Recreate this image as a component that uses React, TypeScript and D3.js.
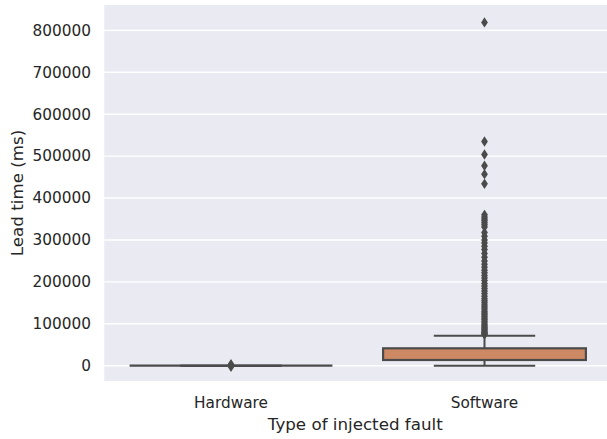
import React from "react";
import * as d3 from "d3";

const categories = ["Hardware", "Software"];
// box statistics per category: [lowerWhisker, q1, median, q3, upperWhisker]
const hardwareStats = [0, 0, 0, 0, 0];
const softwareStats = [0, 13600, 13600, 41500, 71600];
const hardwareOutliers = [3500, -2500, 800];
const softwareOutliers = [
  819000, 535000, 504000, 477000, 457000, 434000,
  360000, 355000, 350000, 346000, 341000, 336000, 331000, 318000,
  309000, 300000, 293000, 285000, 277000, 268000, 259000, 250000, 242000, 235000,
  228000, 222000, 215000, 209000, 203000, 196000, 190000, 184000, 178000, 172000,
  166000, 160000, 155000, 150000, 145000, 140000, 135000, 130000, 126000, 122000,
  118000, 114000, 110000, 106000, 102000, 98000, 95000, 92000, 89000, 86000,
  83000, 80000, 78000, 76000, 74500,
];
const yTicks = [0, 100000, 200000, 300000, 400000, 500000, 600000, 700000, 800000];
const yDomain = [-36500, 860600];

const W = 607;
const H = 439;
const plot = { left: 104.25, right: 611.25, top: 5, bottom: 381 };
const boxColors = ["#5a74a6", "#cc8963"];
const lineColor = "#4b4b4b";
const font = "'DejaVu Sans', sans-serif";

export default function App() {
  const x = d3.scaleBand().domain(categories).range([plot.left, plot.right]).padding(0);
  const y = d3.scaleLinear().domain(yDomain).range([plot.bottom, plot.top]);
  const bw = x.bandwidth() * 0.8;
  const stats = [hardwareStats, softwareStats];
  const outliers = [hardwareOutliers, softwareOutliers];
  const diamond = (cx: number, cy: number) =>
    `M${cx},${cy - 3.8}L${cx + 2.5},${cy}L${cx},${cy + 3.8}L${cx - 2.5},${cy}Z`;

  return (
    <svg width={W} height={H} style={{ position: "absolute", left: 0, top: 0, fontFamily: font }}>
      <rect x={plot.left} y={plot.top} width={plot.right - plot.left} height={plot.bottom - plot.top} fill="#eaeaf2" />
      {yTicks.map((t) => (
        <line key={t} x1={plot.left} x2={plot.right} y1={y(t)} y2={y(t)} stroke="#ffffff" strokeWidth={1.4} />
      ))}
      {categories.map((c, i) => {
        const cx = (x(c) as number) + x.bandwidth() / 2;
        const [lw, q1, med, q3, uw] = stats[i];
        return (
          <g key={c}>
            <line x1={cx} x2={cx} y1={y(q3)} y2={y(uw)} stroke={lineColor} strokeWidth={2} />
            <line x1={cx} x2={cx} y1={y(q1)} y2={y(lw)} stroke={lineColor} strokeWidth={2} />
            <line x1={cx - bw / 4} x2={cx + bw / 4} y1={y(uw)} y2={y(uw)} stroke={lineColor} strokeWidth={2} />
            <line x1={cx - bw / 4} x2={cx + bw / 4} y1={y(lw)} y2={y(lw)} stroke={lineColor} strokeWidth={2} />
            <rect x={cx - bw / 2} y={y(q3)} width={bw} height={Math.max(0, y(q1) - y(q3))} fill={boxColors[i]} stroke={lineColor} strokeWidth={2.2} />
            <line x1={cx - bw / 2} x2={cx + bw / 2} y1={y(med)} y2={y(med)} stroke={lineColor} strokeWidth={2.2} />
            {outliers[i].map((v, k) => (
              <path key={k} d={diamond(cx, y(v))} fill={lineColor} stroke={lineColor} strokeWidth={1.5} strokeLinejoin="miter" />
            ))}
          </g>
        );
      })}
      {yTicks.map((t) => (
        <text key={t} x={91} y={y(t)} dy="0.35em" textAnchor="end" fontSize={15.3} fill="#262626">
          {t}
        </text>
      ))}
      {categories.map((c) => (
        <text key={c} x={(x(c) as number) + x.bandwidth() / 2} y={408} textAnchor="middle" fontSize={15.3} fill="#262626">
          {c}
        </text>
      ))}
      <text x={(plot.left + plot.right) / 2 - 2.5} y={430} textAnchor="middle" fontSize={16.7} fill="#262626">
        Type of injected fault
      </text>
      <text transform={`translate(23,${(plot.top + plot.bottom) / 2}) rotate(-90)`} textAnchor="middle" fontSize={16.7} fill="#262626">
        Lead time (ms)
      </text>
    </svg>
  );
}
